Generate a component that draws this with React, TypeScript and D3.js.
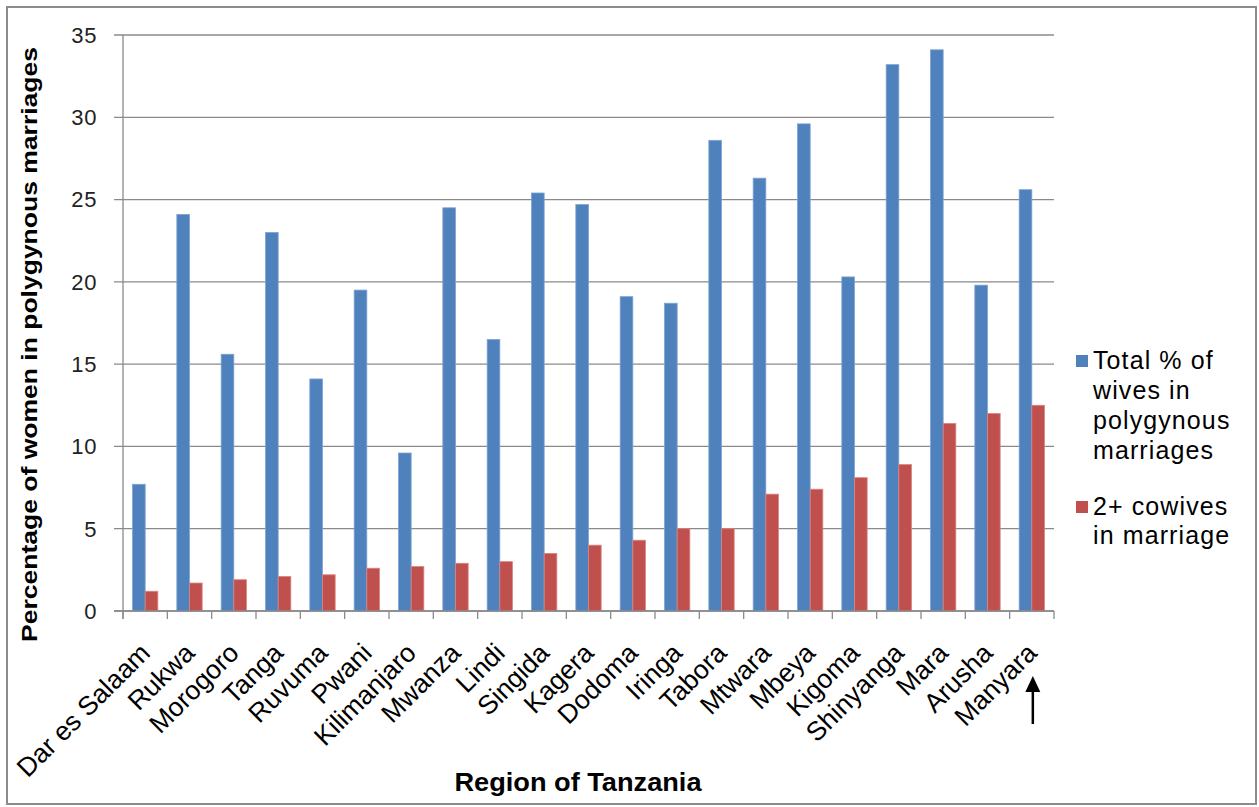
import React from "react";
import * as d3 from "d3";

// Region names, in the order plotted
const regions = [
  "Dar es Salaam", "Rukwa", "Morogoro", "Tanga", "Ruvuma", "Pwani", "Kilimanjaro",
  "Mwanza", "Lindi", "Singida", "Kagera", "Dodoma", "Iringa", "Tabora", "Mtwara",
  "Mbeya", "Kigoma", "Shinyanga", "Mara", "Arusha", "Manyara",
];

// Total % of wives in polygynous marriages
const totalPct = [
  7.7, 24.1, 15.6, 23.0, 14.1, 19.5, 9.6, 24.5, 16.5, 25.4, 24.7, 19.1, 18.7, 28.6,
  26.3, 29.6, 20.3, 33.2, 34.1, 19.8, 25.6,
];

// % of wives with 2+ co-wives
const cowives2 = [
  1.2, 1.7, 1.9, 2.1, 2.2, 2.6, 2.7, 2.9, 3.0, 3.5, 4.0, 4.3, 5.0, 5.0,
  7.1, 7.4, 8.1, 8.9, 11.4, 12.0, 12.5,
];

const yTicks = [0, 5, 10, 15, 20, 25, 30, 35];

const seriesNames = ["Total % of wives in polygynous marriages", "2+ cowives in marriage"];
const legendLines = [
  ["Total % of", "wives in", "polygynous", "marriages"],
  ["2+ cowives", "in marriage"],
];
const colors = ["#4F81BD", "#C0504D"];
const edgeColors = ["#7EA3D3", "#D98582"];

const W = 1259;
const H = 807;
const plot = { left: 123, right: 1054, top: 35, bottom: 611 };
const FONT = "'Liberation Sans', Arial, sans-serif";
const GRID = "#8A8A8A";

export default function App() {
  const x = d3.scaleBand<string>().domain(regions).range([plot.left, plot.right]).paddingInner(0).paddingOuter(0);
  const y = d3.scaleLinear().domain([0, 35]).range([plot.bottom, plot.top]);
  // two bars per group, with a gap of 1.5 bar widths split round the pair
  const inner = d3.scaleBand<number>().domain([0, 1]).range([0, x.bandwidth()]).paddingOuter(0.75).paddingInner(0);
  const series = [totalPct, cowives2];
  const boundaries = d3.range(regions.length + 1).map((i) => plot.left + i * x.bandwidth());
  const lastCenter = (x(regions[regions.length - 1]) ?? 0) + x.bandwidth() / 2;

  return (
    <svg
      width={W}
      height={H}
      viewBox={`0 0 ${W} ${H}`}
      style={{ position: "absolute", left: 0, top: 0, display: "block", background: "#fff" }}
      fontFamily={FONT}
    >
      <rect x={0} y={0} width={W} height={H} fill="#fff" />
      <rect x={7} y={7} width={1249} height={797} fill="none" stroke="#8C8C8C" strokeWidth={2} />

      {/* horizontal gridlines with their tick marks */}
      {yTicks.map((t) => (
        <g key={`g${t}`}>
          <line x1={114} x2={plot.right} y1={y(t)} y2={y(t)} stroke={GRID} strokeWidth={1.3} />
          <text x={97} y={y(t)} dy="0.36em" textAnchor="end" fontSize={22} fill="#222" letterSpacing={0.6}>
            {t}
          </text>
        </g>
      ))}

      {/* bars */}
      {series.map((vals, s) =>
        regions.map((r, i) => {
          const bx = (x(r) ?? 0) + (inner(s) ?? 0);
          return (
            <rect
              key={`b${s}-${i}`}
              x={bx}
              y={y(vals[i])}
              width={inner.bandwidth()}
              height={y(0) - y(vals[i])}
              fill={colors[s]}
              stroke={edgeColors[s]}
              strokeWidth={0.8}
            >
              <title>{`${r} — ${seriesNames[s]}: ${vals[i]}`}</title>
            </rect>
          );
        })
      )}

      {/* axes */}
      <line x1={plot.left} x2={plot.left} y1={plot.top} y2={plot.bottom + 8} stroke={GRID} strokeWidth={1.3} />
      <line x1={114} x2={plot.right} y1={plot.bottom} y2={plot.bottom} stroke={GRID} strokeWidth={1.3} />
      {boundaries.map((bx, i) => (
        <line key={`t${i}`} x1={bx} x2={bx} y1={plot.bottom} y2={plot.bottom + 8} stroke={GRID} strokeWidth={1.3} />
      ))}

      {/* category labels */}
      {regions.map((r) => {
        const cx = (x(r) ?? 0) + x.bandwidth() / 2;
        return (
          <text
            key={`l${r}`}
            transform={`translate(${cx},648) rotate(-45)`}
            textAnchor="end"
            dy="0.35em"
            fontSize={26.5}
            fill="#000"
          >
            {r}
          </text>
        );
      })}

      {/* arrow pointing at Manyara */}
      <line x1={lastCenter + 1} x2={lastCenter + 1} y1={724} y2={688} stroke="#000" strokeWidth={2.5} />
      <path d={`M${lastCenter + 1},676 L${lastCenter - 6.5},692 L${lastCenter + 8.5},692 Z`} fill="#000" />

      {/* axis titles */}
      <text
        transform="translate(36.7,344.5) rotate(-90)"
        textAnchor="middle"
        fontSize={22}
        fontWeight="bold"
        textLength={595}
        lengthAdjust="spacingAndGlyphs"
        fill="#000"
      >
        Percentage of women in polygynous marriages
      </text>
      <text
        x={578}
        y={791}
        textAnchor="middle"
        fontSize={25}
        fontWeight="bold"
        textLength={247}
        lengthAdjust="spacingAndGlyphs"
        fill="#000"
      >
        Region of Tanzania
      </text>

      {/* legend */}
      <rect x={1076} y={355} width={12} height={12} fill={colors[0]} />
      {legendLines[0].map((ln, i) => (
        <text key={`a${i}`} x={1093} y={369 + i * 30} fontSize={25} letterSpacing={1.1} fill="#000">
          {ln}
        </text>
      ))}
      <rect x={1076} y={501} width={12} height={12} fill={colors[1]} />
      {legendLines[1].map((ln, i) => (
        <text key={`c${i}`} x={1093} y={515 + i * 29} fontSize={25} letterSpacing={1.1} fill="#000">
          {ln}
        </text>
      ))}
    </svg>
  );
}
